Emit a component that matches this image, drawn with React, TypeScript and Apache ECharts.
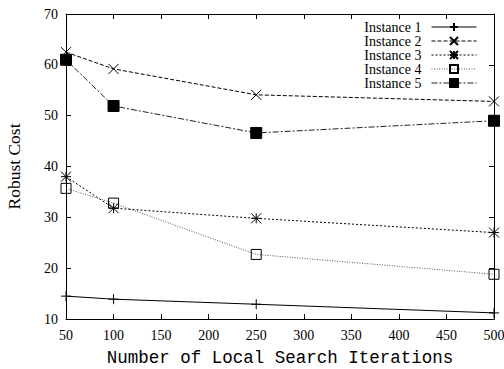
import React, { useEffect, useRef } from "react";
import * as echarts from "echarts";

const xValues = [50, 100, 250, 500];
const seriesNames = ["Instance 1", "Instance 2", "Instance 3", "Instance 4", "Instance 5"];
const instance1 = [14.5, 13.9, 12.9, 11.2];
const instance2 = [62.5, 59.2, 54.1, 52.8];
const instance3 = [38.0, 31.8, 29.8, 27.0];
const instance4 = [35.7, 32.8, 22.7, 18.8];
const instance5 = [61.0, 51.9, 46.6, 49.0];

const serif = "'Liberation Serif', 'Times New Roman', serif";
const mono = "'Liberation Mono', 'Courier New', monospace";

const plusSym = "path://M0,5L10,5M5,0L5,10";
const crossSym = "path://M0,0L10,10M10,0L0,10";
const starSym = "path://M0,5L10,5M5,0L5,10M0,0L10,10M10,0L0,10";
const boxSym = "path://M0,0L10,0L10,10L0,10Z";

export default function App() {
  const ref = useRef<HTMLDivElement>(null);
  useEffect(() => {
    if (!ref.current) return;
    const chart = echarts.init(ref.current, null, { renderer: "svg" });
    const pair = (ys: number[]) => xValues.map((x, i) => [x, ys[i]]);
    const axisCommon = {
      axisLine: { show: true, lineStyle: { color: "#000", width: 1 } },
      axisTick: { show: true, inside: true, length: 5, lineStyle: { color: "#000" } },
      splitLine: { show: false },
    };
    const mk = (
      name: string,
      data: number[],
      symbol: string,
      size: number,
      lineType: any,
      lineColor: string,
      fill: string
    ) => ({
      name,
      type: "line",
      data: pair(data),
      symbol,
      symbolSize: size,
      showAllSymbol: true,
      lineStyle: { color: lineColor, width: 1, type: lineType },
      itemStyle: { color: fill, borderColor: "#000", borderWidth: 1 },
      emphasis: { disabled: true },
    });
    chart.setOption({
      animation: false,
      backgroundColor: "#fff",
      grid: { left: 66, right: 10, top: 14, bottom: 50, outerBoundsMode: "none", containLabel: false },
      legend: {
        orient: "vertical",
        right: 27,
        top: 20,
        padding: 0,
        align: "right",
        itemWidth: 45,
        itemHeight: 10,
        itemGap: 0,
        lineStyle: { width: 1 },
        textStyle: { fontFamily: serif, fontSize: 14, color: "#000", padding: [0, 5, 0, 0] },
        data: seriesNames,
      },
      xAxis: [
        {
          type: "value",
          min: 50,
          max: 500,
          interval: 50,
          ...axisCommon,
          axisLabel: { fontFamily: serif, fontSize: 14, color: "#000", margin: 9 },
          name: "Number of Local Search Iterations",
          nameLocation: "middle",
          nameGap: 30,
          nameTextStyle: { fontFamily: mono, fontSize: 17.5, color: "#000" },
        },
        {
          type: "value",
          position: "top",
          min: 50,
          max: 500,
          interval: 50,
          ...axisCommon,
          axisLabel: { show: false },
        },
      ],
      yAxis: [
        {
          type: "value",
          min: 10,
          max: 70,
          interval: 10,
          ...axisCommon,
          axisLabel: { fontFamily: serif, fontSize: 14, color: "#000", margin: 8 },
          name: "Robust Cost",
          nameLocation: "middle",
          nameGap: 43,
          nameTextStyle: { fontFamily: serif, fontSize: 17.5, color: "#000" },
        },
        {
          type: "value",
          position: "right",
          min: 10,
          max: 70,
          interval: 10,
          ...axisCommon,
          axisLabel: { show: false },
        },
      ],
      series: [
        mk(seriesNames[0], instance1, plusSym, 10, "solid", "#000", "none"),
        mk(seriesNames[1], instance2, crossSym, 10, [4, 2], "#000", "none"),
        mk(seriesNames[2], instance3, starSym, 10, [2, 2], "#000", "none"),
        mk(seriesNames[3], instance4, boxSym, 10, [1, 1.5], "#555", "none"),
        mk(seriesNames[4], instance5, "rect", 11, [6, 2, 2, 2], "#222", "#000"),
      ],
    });
    return () => chart.dispose();
  }, []);
  return <div ref={ref} style={{ width: 504, height: 369, position: "absolute", left: 0, top: 0 }} />;
}
